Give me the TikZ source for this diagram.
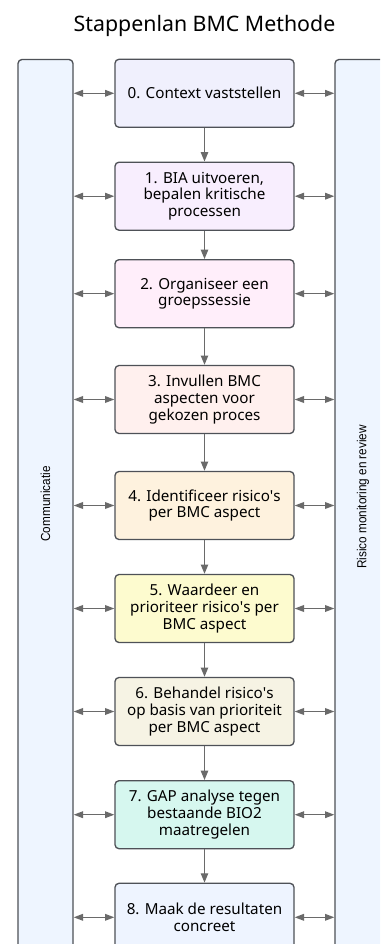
\documentclass[tikz,border=0pt]{standalone}
\usepackage{fontspec}
\setmainfont{Noto Sans}
\newfontfamily\sidefont[FakeStretch=0.9]{Liberation Sans}
\usetikzlibrary{arrows.meta}

\definecolor{boxline}{HTML}{4E5157}
\definecolor{arrowgray}{HTML}{6A6A6A}
\definecolor{sidefill}{HTML}{EEF5FF}
\definecolor{stepA}{HTML}{F0F0FD}
\definecolor{stepB}{HTML}{F8EEFE}
\definecolor{stepC}{HTML}{FFEEFA}
\definecolor{stepD}{HTML}{FFF0EE}
\definecolor{stepE}{HTML}{FEF2DE}
\definecolor{stepF}{HTML}{FDFBCF}
\definecolor{stepG}{HTML}{F6F3E4}
\definecolor{stepH}{HTML}{D6F7EF}
\definecolor{stepI}{HTML}{EEF4FF}

\tikzset{
  stepbox/.style={draw=boxline, line width=1pt, rounded corners=3pt,
    minimum width=134.25pt, minimum height=51pt, inner sep=0pt,
    align=center, font=\fontsize{11.4}{12.6}\selectfont},
  sidebox/.style={draw=boxline, fill=sidefill, line width=1pt, rounded corners=3pt,
    minimum width=41.25pt, minimum height=705pt, inner sep=0pt},
  sidelabel/.style={rotate=90, font=\sidefont\fontsize{9.8}{11}\selectfont},
  flow/.style={draw=arrowgray, line width=1pt, -{Triangle[length=7pt, width=5.5pt]}},
  biflow/.style={draw=arrowgray, line width=1pt,
    {Triangle[length=7pt, width=5pt]}-{Triangle[length=7pt, width=5pt]}}
}

\begin{document}
\begin{tikzpicture}[x=0.75pt, y=-0.75pt]
  % Canvas
  \path[use as bounding box, clip] (0,0) rectangle (380,944);
  \fill[white] (0,0) rectangle (380,944);

  % Title
  \node[font=\fontsize{16}{18}\selectfont] (title) at (204.5,26) {Stappenlan BMC Methode};

  % Side panels
  \node[sidebox] (comm) at (45.5,529.5) {};
  \node[sidebox] (risk) at (362.5,529.5) {};
  \node[sidelabel] (commlabel) at (45.5,504) {Communicatie};
  \node[sidelabel] (risklabel) at (363,497) {Risico monitoring en review};

  % Steps
  \foreach \n/\y/\col/\txt in {
    0/93.3/stepA/{0. Context vaststellen},
    1/196.2/stepB/{1. BIA uitvoeren,\\bepalen kritische\\processen},
    2/293.7/stepC/{2. Organiseer een\\groepssessie},
    3/399.5/stepD/{3. Invullen BMC\\aspecten voor\\gekozen proces},
    4/505.5/stepE/{4. Identificeer risico\textquotesingle s\\per BMC aspect},
    5/608.5/stepF/{5. Waardeer en\\prioriteer risico\textquotesingle s per\\BMC aspect},
    6/711.5/stepG/{6. Behandel risico\textquotesingle s\\op basis van prioriteit\\per BMC aspect},
    7/814.7/stepH/{7. GAP analyse tegen\\bestaande BIO2\\maatregelen},
    8/917.3/stepI/{8. Maak de resultaten\\concreet}%
  } {
    \node[stepbox, fill=\col] (s\n) at (204.5,\y) {\txt};

    % Links to the side panels
    \draw[biflow] (comm.east |- s\n.west) -- (s\n.west);
    \draw[biflow] (s\n.east) -- (risk.west |- s\n.east);
  }

  % Flow between steps
  \foreach \i [remember=\i as \j (initially 0)] in {1,...,8}
    \draw[flow] (s\j.south) -- (s\i.north);
\end{tikzpicture}
\end{document}
